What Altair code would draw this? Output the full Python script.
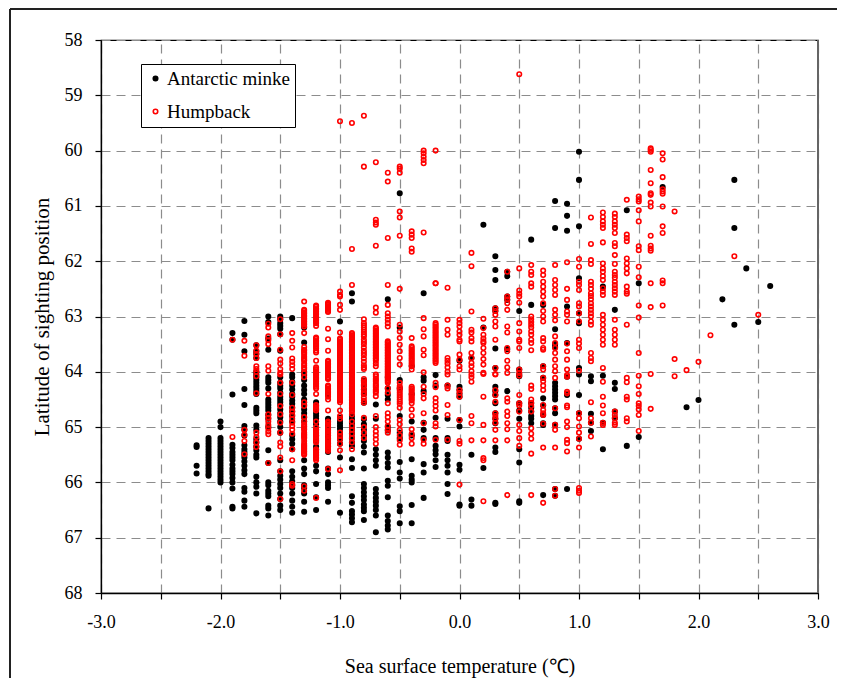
import altair as alt
import pandas as pd

minke_temps = [-2.2,-2.1,-2.0,-1.9,-1.8,-1.7,-1.6,-1.5,-1.4,-1.3,-1.2,-1.1,-1.0,-0.9,-0.8,-0.7,-0.6,-0.5,-0.4,-0.3,-0.2,-0.1,0.0,0.1,0.2,0.3,0.4,0.5,0.6,0.7,0.8,0.9,1.0,1.1,1.2,1.3,1.4,1.5,1.7,1.9,2.0,2.2,2.3,2.4,2.5,2.6]
minke_lats = [
 [65.33,65.36,65.7,65.84],
 [65.2,65.25,65.3,65.35,65.4,65.45,65.5,65.55,65.6,65.65,65.7,65.75,65.8,65.85,65.88,66.47],
 [64.9,65.0,65.2,65.25,65.3,65.35,65.4,65.45,65.5,65.55,65.6,65.65,65.7,65.75,65.8,65.85,65.9,65.95,66.0],
 [63.3,63.42,64.41,65.32,65.38,65.45,65.5,65.55,65.6,65.68,65.75,65.8,65.85,65.92,66.0,66.11,66.44,66.47],
 [63.08,63.33,63.63,64.31,64.6,64.98,65.05,65.15,65.33,65.4,65.45,65.5,65.55,65.62,65.7,65.78,65.85,66.1,66.17,66.33,66.44],
 [63.52,63.63,63.68,63.75,64.0,64.05,64.1,64.15,64.2,64.25,64.3,64.35,64.4,64.65,64.7,64.75,64.97,65.05,65.22,65.28,65.35,65.42,65.5,65.55,65.9,66.0,66.08,66.2,66.56],
 [63.0,63.1,63.4,63.6,64.1,64.15,64.2,64.3,64.5,64.55,64.6,64.65,64.7,64.78,64.85,65.0,65.42,65.65,66.0,66.05,66.15,66.2,66.25,66.42,66.47,66.6],
 [63.0,63.05,63.12,63.17,63.22,63.32,63.62,64.1,64.2,64.25,64.3,64.38,64.45,64.5,64.55,64.6,64.68,64.75,64.82,64.9,65.0,65.1,65.6,65.8,65.88,65.95,66.03,66.1,66.2,66.3,66.42,66.5],
 [63.03,64.05,64.1,64.18,64.25,64.32,64.4,64.45,64.52,64.58,64.65,64.72,64.8,64.9,65.15,65.22,65.3,65.4,65.8,65.9,65.98,66.05,66.1,66.2,66.33,66.44,66.55],
 [63.2,63.47,64.0,64.06,64.15,64.25,64.33,64.4,64.5,64.55,64.6,64.68,64.75,64.82,64.9,65.6,65.75,65.85,66.05,66.1,66.2,66.35,66.53],
 [64.55,64.62,64.68,64.75,64.8,64.85,64.9,64.95,65.05,65.15,65.25,65.35,65.4,65.7,65.8,66.03,66.27,66.5],
 [64.4,64.85,64.9,64.95,65.0,65.05,65.1,65.15,65.2,65.25,65.3,65.35,65.45,65.75,65.85,66.0,66.05,66.1,66.35],
 [63.09,64.83,64.88,64.93,64.98,65.03,65.1,65.15,65.22,65.3,65.55,66.55],
 [62.58,62.73,64.8,64.86,64.92,64.98,65.05,65.12,65.2,65.28,65.34,65.58,65.74,66.25,66.37,66.52,66.58,66.65,66.72],
 [64.16,64.24,64.32,64.4,64.56,64.86,64.95,65.05,65.15,65.25,65.35,65.46,65.75,66.03,66.1,66.18,66.25,66.32,66.4,66.46,66.52,66.68],
 [64.59,64.85,65.4,65.5,65.6,65.7,66.12,66.2,66.28,66.35,66.42,66.5,66.6,66.9],
 [62.69,64.1,64.3,64.42,64.5,65.0,65.06,65.46,65.55,65.65,65.73,65.97,66.06,66.27,66.6,66.7,66.78,66.85],
 [60.77,63.2,64.15,64.3,64.8,65.1,65.2,65.63,65.82,65.93,66.43,66.52,66.74],
 [63.9,64.4,64.9,65.15,65.58,65.88,65.95,66.0,66.41,66.74],
 [62.58,64.1,64.16,64.35,64.92,65.05,65.2,65.67,65.82,66.28],
 [64.06,64.25,64.83,65.2,65.34,65.42,65.49,65.6,65.72],
 [64.25,64.85,65.2,65.25,65.5,65.6,65.7,65.82,66.03,66.21],
 [63.8,64.27,64.33,64.4,64.45,64.87,64.99,65.68,65.77,66.4,66.42],
 [63.75,65.5,66.31,66.42],
 [61.34,63.2,65.74],
 [61.91,62.16,62.34,62.85,62.9,63.58,63.93,64.27,64.35,64.42,64.57,64.75,64.85,64.93,65.37,65.45,66.37,66.39],
 [62.27,62.19,62.64,62.7,63.59,64.35],
 [62.9,64.05,63.96,64.08,64.57,64.7,64.85,65.4,65.64,66.34,66.37],
 [61.61,62.79,64.57,64.65,64.72,64.8,64.85,64.93],
 [62.79,63.9,64.11,64.48,64.61,64.78,64.93,64.96,66.23],
 [60.91,61.4,63.23,63.5,63.55,64.2,64.26,64.32,64.38,64.44,64.5,64.66,64.75,64.96,66.12,66.24],
 [60.96,61.18,61.45,62.82,63.48,64.09,64.42,66.12],
 [60.02,60.53,61.37,62.31,62.94,63.12,63.93,64.05,64.42,64.75,65.21],
 [64.08,64.17,64.76,64.92,65.07],
 [62.46,64.07,64.92,65.4],
 [62.88,64.2,64.31,64.72,64.84],
 [61.08,65.34],
 [62.4,65.18],
 [60.66],
 [64.64],
 [64.51],
 [62.69],
 [60.53,61.4,63.15],
 [62.13],
 [63.1],
 [62.45],
]

humpback_temps = [-1.9,-1.8,-1.7,-1.6,-1.5,-1.4,-1.3,-1.2,-1.1,-1.0,-0.9,-0.8,-0.7,-0.6,-0.5,-0.4,-0.3,-0.2,-0.1,0.0,0.1,0.2,0.3,0.4,0.5,0.6,0.7,0.8,0.9,1.0,1.1,1.2,1.3,1.4,1.5,1.6,1.7,1.8,1.9,2.0,2.1,2.3,2.5]
humpback_lats = [
 [63.42,65.18],
 [63.44,63.71,65.05,65.14,65.25,65.49],
 [63.52,63.62,63.68,63.75,63.9,63.95,64.0,64.08,64.39,65.1,65.18,65.28,65.36],
 [63.13,63.2,63.36,63.43,63.5,63.9,63.98,64.4,64.77,64.83,64.9,64.96,65.02,65.08,65.13,65.65],
 [63.05,63.32,63.6,63.78,63.85,63.95,64.02,64.05,64.2,64.4,64.62,64.77,64.92,65.1,65.28,65.35,65.55,65.8,66.3],
 [63.3,63.44,63.56,63.76,63.82,63.88,63.95,64.2,64.42,64.65,64.72,64.78,64.85,64.92,64.98,65.05,65.12,65.4,65.6,66.03,66.06],
 [62.73,62.88,62.9,62.93,62.95,62.98,63.0,63.03,63.05,63.08,63.1,63.13,63.15,63.18,63.3,63.55,63.6,63.62,63.65,63.68,63.72,63.75,63.78,63.8,63.85,63.88,63.92,63.95,64.02,64.1,64.55,64.62,64.82,64.9,64.95,64.98,65.0,65.03,65.05,65.1,65.13,65.15,65.18,65.2,65.25,65.3,65.33,65.35,65.38,65.4,65.43,65.45,65.48,65.5,66.07,66.15],
 [62.8,62.82,62.85,62.87,62.9,62.92,62.95,62.97,63.0,63.02,63.05,63.07,63.1,63.12,63.17,63.38,63.4,63.43,63.45,63.48,63.5,63.53,63.55,63.58,63.62,63.65,63.8,63.92,63.95,63.97,64.0,64.02,64.05,64.07,64.1,64.12,64.15,64.18,64.21,64.24,64.27,64.3,64.4,64.6,64.62,64.65,64.67,64.7,64.9,65.0,65.05,65.07,65.1,65.12,65.15,65.17,65.2,65.22,65.25,65.28,65.4,65.42,65.45,65.47,65.5,65.52,65.55,65.57,65.6,66.28],
 [62.75,62.77,62.79,62.81,62.84,62.86,62.88,62.9,62.92,63.22,63.41,63.62,63.8,63.82,63.85,63.87,63.9,63.92,63.95,63.97,64.0,64.02,64.05,64.07,64.1,64.12,64.13,64.25,64.27,64.3,64.32,64.35,64.38,64.42,64.45,64.5,64.7,64.9,64.92,64.95,65.0,65.03,65.06,65.09,65.12,65.15,65.2,65.23,65.25,65.28,65.3,65.33,65.35,65.38,65.4,65.43,65.76],
 [59.47,62.55,62.61,62.64,62.79,62.88,63.29,63.4,63.42,63.45,63.47,63.5,63.52,63.55,63.57,63.6,63.62,63.65,63.67,63.7,63.72,63.75,63.77,63.8,63.82,63.85,63.87,63.9,63.92,63.95,63.97,64.0,64.02,64.05,64.07,64.1,64.12,64.15,64.17,64.2,64.22,64.25,64.27,64.3,64.32,64.35,64.37,64.4,64.42,64.45,64.47,64.5,64.52,64.55,64.7,64.8,64.85,65.1,65.16,65.22,65.3,65.42,65.78],
 [59.5,61.78,62.43,63.3,63.32,63.35,63.37,63.4,63.42,63.45,63.47,63.5,63.52,63.55,63.57,63.6,63.62,63.65,63.67,63.7,63.72,63.75,63.77,63.8,63.82,63.85,63.87,63.9,63.92,63.95,63.97,64.0,64.02,64.05,64.07,64.1,64.12,64.15,64.17,64.2,64.22,64.25,64.27,64.3,64.32,64.35,64.37,64.4,64.42,64.45,64.47,64.5,64.52,64.55,64.57,64.6,64.62,64.65,64.67,64.7,64.72,64.77,64.9,64.98,65.05,65.12,65.2,65.28,65.4],
 [59.37,60.29,63.05,63.12,63.16,63.2,63.24,63.28,63.32,63.36,63.42,63.46,63.5,63.56,63.62,63.66,63.7,63.76,63.82,63.88,63.92,63.95,64.13,64.17,64.2,64.24,64.27,64.33,64.37,64.4,64.47,64.52,64.56,64.83,65.0,65.1,65.2],
 [60.21,61.25,61.3,61.34,61.72,62.84,62.93,63.2,63.22,63.25,63.27,63.3,63.32,63.35,63.37,63.4,63.42,63.45,63.47,63.5,63.52,63.55,63.57,63.6,63.62,63.65,63.67,63.7,63.72,63.75,63.77,63.8,63.85,63.9,64.05,64.08,64.12,64.15,64.18,64.22,64.25,64.28,64.32,64.35,64.38,64.44,64.8,65.0,65.08,65.15,65.22,65.3],
 [60.4,60.56,61.58,62.43,62.79,62.94,63.0,63.06,63.12,63.18,63.45,63.47,63.5,63.52,63.55,63.57,63.6,63.62,63.65,63.67,63.7,63.72,63.75,63.77,63.8,63.82,63.85,63.87,63.9,63.92,63.95,63.97,64.0,64.02,64.05,64.07,64.1,64.12,64.15,64.17,64.2,64.3,64.38,64.57,64.75,64.82,64.9,64.98,65.05,65.1],
 [60.29,60.33,60.4,61.1,61.21,61.54,62.5,63.15,63.27,63.39,63.51,63.63,63.75,63.87,64.2,64.26,64.3,64.34,64.38,64.42,64.46,64.5,64.54,64.58,64.65,64.87,64.95,65.05,65.15,65.24,65.32],
 [61.46,61.52,61.58,61.77,61.83,63.39,63.54,63.57,63.6,63.63,63.66,63.69,63.72,63.75,63.78,63.81,63.84,63.87,63.9,63.96,64.27,64.3,64.33,64.36,64.4,64.43,64.46,64.49,64.52,64.57,64.68,64.8,65.04,65.12,65.2,65.3],
 [60.0,60.05,60.11,60.17,60.23,61.48,63.03,63.23,63.36,63.6,63.7,64.01,64.27,64.4,64.48,64.75,64.93,65.23,65.3],
 [60.0,62.4,62.4,63.12,63.15,63.18,63.21,63.24,63.27,63.3,63.33,63.36,63.39,63.42,63.45,63.48,63.51,63.54,63.57,63.6,63.63,63.66,63.69,63.72,63.75,63.78,63.81,63.84,64.2,64.28,64.48,64.55,64.62,64.7,64.93,64.99,65.23],
 [62.48,63.06,63.24,63.33,63.75,63.8,63.85,63.92,64.0,64.05,64.25,64.3,64.6,64.78,65.23],
 [63.06,63.12,63.18,63.27,63.33,63.42,63.45,63.69,63.78,63.9,63.96,64.33,64.38,64.45,64.87,65.25,65.3,66.04],
 [61.85,62.09,62.91,63.24,63.29,63.39,63.45,63.66,63.75,63.84,63.9,63.99,64.05,64.1,64.18,64.8,64.93,65.24],
 [63.04,63.21,63.33,63.4,63.45,63.48,63.57,63.66,63.77,63.87,64.02,64.04,64.45,64.96,65.24,65.56,65.6,66.34],
 [62.85,62.9,62.97,63.09,63.18,63.42,63.93,64.04,64.05,64.33,64.42,64.54,64.75,64.8,64.85,64.92,65.05,65.24],
 [62.19,62.64,62.69,62.76,62.88,63.18,63.29,63.57,63.63,63.8,63.92,64.02,64.48,64.54,64.72,64.8,64.93,65.04,65.24,66.23],
 [58.62,62.13,62.53,62.59,62.64,62.75,63.12,63.27,63.42,63.45,63.57,63.96,64.02,64.07,64.42,64.57,64.61,64.72,64.96,65.07,65.2,65.34],
 [62.07,62.19,62.25,62.4,62.46,63.0,63.05,63.1,63.15,63.2,63.27,63.33,63.42,63.48,63.61,64.25,64.31,64.5,64.56,64.62,64.72,65.02,65.12,65.21,65.48,66.23],
 [62.17,62.25,62.37,62.46,62.55,62.64,62.76,62.9,63.0,63.09,63.39,63.45,63.57,63.6,63.9,63.96,64.11,64.17,64.25,64.33,64.6,64.69,64.75,64.78,64.94,65.37,66.37],
 [62.07,62.34,62.43,62.52,62.61,62.88,62.97,63.07,63.36,63.48,63.57,63.66,63.78,63.9,63.99,64.11,64.66,64.96,65.05,65.37,66.12,66.24],
 [62.02,62.5,62.7,62.91,62.97,63.09,63.49,63.63,63.78,63.96,64.06,64.09,64.36,64.39,64.61,64.64,64.9,65.0,65.23,65.29,65.44],
 [61.96,62.1,62.37,62.43,62.52,62.76,62.82,62.94,63.09,63.42,63.49,63.57,63.98,64.75,64.84,64.99,65.1,65.21,65.37,66.1,66.15,66.19],
 [61.21,61.69,61.98,62.05,62.37,62.43,62.5,62.58,62.63,62.69,62.76,62.82,62.88,62.94,63.0,63.09,63.15,63.66,63.75,63.81,64.55,64.84,64.92,65.17],
 [61.12,61.2,61.28,61.34,61.4,61.66,62.04,62.13,62.19,62.27,62.34,62.49,62.55,62.61,62.97,63.06,63.15,63.24,63.33,63.42,63.51,63.93,64.18,64.45,64.61,64.75,64.92,64.96],
 [61.14,61.2,61.28,61.34,61.4,61.49,61.67,61.73,61.89,62.05,62.19,62.25,62.3,62.37,62.43,62.49,62.55,62.61,63.06,63.24,63.33,63.42,63.51,64.72,64.78,64.84,64.92,64.96],
 [60.89,61.52,61.58,61.64,61.95,62.04,62.13,62.22,62.46,62.55,62.59,63.15,64.11,64.19,64.45,64.5,64.84,64.9],
 [60.83,60.88,60.92,61.08,61.28,61.73,61.8,62.1,62.29,62.8,63.02,63.66,64.07,64.26,64.4,64.57,64.62,64.68,64.78,65.07],
 [59.96,59.99,60.02,60.35,60.59,60.77,60.8,60.94,61.01,61.54,61.72,61.77,61.81,62.4,62.83,64.04,64.67],
 [60.05,60.16,60.48,60.7,60.74,60.78,61.01,61.37,61.49,62.35,62.4,62.8],
 [61.1,63.77,64.08],
 [63.97],
 [63.82],
 [63.34],
 [61.91],
 [62.97],
]

species_names = ["Antarctic minke", "Humpback"]
fill_colors = ["black", "transparent"]
stroke_colors = ["black", "red"]
x_ticks = [-3.0,-2.5,-2.0,-1.5,-1.0,-0.5,0.0,0.5,1.0,1.5,2.0,2.5,3.0]
y_ticks = [58,59,60,61,62,63,64,65,66,67,68]

rows = []
for t, ls in zip(minke_temps, minke_lats):
    rows += [{"t": t, "lat": v, "sp": species_names[0], "o": 0} for v in ls]
for t, ls in zip(humpback_temps, humpback_lats):
    rows += [{"t": t, "lat": v, "sp": species_names[1], "o": 1} for v in ls]
df = pd.DataFrame(rows)

FONT = "Liberation Serif"
W, H = 717, 553

legend_opts = dict(title=None, orient="none", legendX=40, legendY=24,
                   fillColor="white", strokeColor="black", padding=5,
                   symbolSize=20, symbolStrokeWidth=1.6, labelFontSize=19,
                   labelFont=FONT, labelColor="black", rowPadding=13,
                   labelOffset=2, symbolType="circle")

points = alt.Chart(df).mark_point(shape="circle", size=20, strokeWidth=1.6, opacity=1).encode(
    x=alt.X("t:Q", scale=alt.Scale(domain=[-3, 3], nice=False, zero=False),
            title="Sea surface temperature (℃)",
            axis=alt.Axis(values=x_ticks, grid=True, tickSize=6, labelPadding=14, titlePadding=25,
                          titleFontSize=20,
                          labelExpr="abs(datum.value % 1) < 0.001 ? replace(format(datum.value, '.1f'), '−', '-') : ''",
                          labelFlush=False, labelOverlap=False)),
    y=alt.Y("lat:Q", scale=alt.Scale(domain=[58, 68], reverse=True, nice=False, zero=False),
            title="Latitude of sighting position",
            axis=alt.Axis(values=y_ticks, grid=True, tickSize=6, labelPadding=13, titlePadding=12,
                          titleFontSize=21, format="d")),
    fill=alt.Fill("sp:N", scale=alt.Scale(domain=species_names, range=fill_colors),
                  legend=alt.Legend(**legend_opts)),
    stroke=alt.Stroke("sp:N", scale=alt.Scale(domain=species_names, range=stroke_colors),
                      legend=alt.Legend(**legend_opts)),
    order=alt.Order("o:Q"),
)

right_edge = alt.Chart(df).mark_rule(color="#666666", strokeWidth=1.6).encode(
    x=alt.value(W), y=alt.value(0), y2=alt.value(H))
frame_left = alt.Chart(df).mark_rule(color="#222222", strokeWidth=1).encode(
    x=alt.value(-91), y=alt.value(-31), y2=alt.value(H + 95))
frame_top = alt.Chart(df).mark_rule(color="#222222", strokeWidth=1).encode(
    y=alt.value(-31), x=alt.value(-91), x2=alt.value(W + 30))

chart = alt.layer(points, right_edge, frame_left, frame_top).properties(
    width=W, height=H,
    autosize=alt.AutoSizeParams(type="none", contains="content"),
    padding={"left": 93, "top": 32, "right": 19, "bottom": 85},
).configure_view(stroke="black", strokeWidth=1.2).configure_axis(
    labelFont=FONT, titleFont=FONT, labelFontSize=18, titleFontSize=20,
    labelColor="black", titleColor="black", titleFontWeight="normal",
    domainColor="black", domainWidth=1.3, tickColor="black", tickWidth=1.2,
    gridColor="#8c8c8c", gridWidth=1.2, gridDash=[9, 6], gridOpacity=1,
).configure_legend(labelFont=FONT)

chart.save("out.html", embed_options={"renderer": "svg", "actions": False})
